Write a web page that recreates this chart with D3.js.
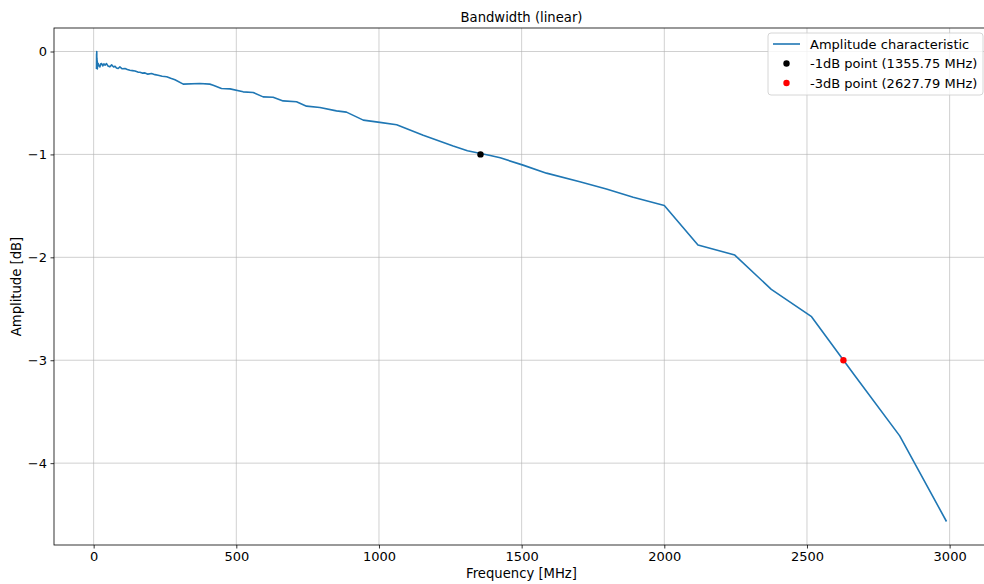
<!DOCTYPE html>
<html>
<head>
<meta charset="utf-8">
<script src="https://cdn.jsdelivr.net/npm/d3@7"></script>
<style>
  body { margin: 0; background: #fff; }
  svg { font-family: "DejaVu Sans", sans-serif; }
  .grid line { stroke: #b0b0b0; stroke-width: 0.8; stroke-opacity: 0.75; }
  .axis path, .axis line { stroke: #000; stroke-width: 0.8; }
</style>
</head>
<body>
<svg id="chart" width="984" height="584"></svg>
<script>
// frequency [MHz] and amplitude [dB]
let freqs = [
  10.0, 10.3, 10.6, 10.9, 11.2, 11.6, 12.0, 12.5, 13.0, 14, 15, 16, 19, 22, 25, 28,
  32, 36, 40, 45, 50, 57, 63, 70, 75, 80, 86, 92, 100, 110, 118, 127, 136, 145,
  155, 162, 170, 180, 190, 203, 215, 226, 240, 256, 270, 285,
  314, 372, 407, 419, 448, 478, 524, 559, 594, 629, 664, 711, 746, 793, 851, 886,
  945, 1003, 1062, 1155, 1260, 1310, 1390, 1425, 1505, 1587, 1704, 1797, 1891,
  2000, 2118, 2247, 2375, 2516, 2668, 2825, 2989
];
let amps = [
  -0.17, -0.02, -0.15, 0.0, -0.16, -0.06, -0.14, -0.09, -0.17, -0.11, -0.13, -0.117, -0.14, -0.149, -0.12, -0.117,
  -0.14, -0.12, -0.133, -0.117, -0.14, -0.149, -0.13, -0.15, -0.143, -0.16, -0.165, -0.15, -0.168, -0.165, -0.175, -0.182, -0.186, -0.19,
  -0.2, -0.201, -0.21, -0.208, -0.22, -0.214, -0.225, -0.23, -0.24, -0.245, -0.26, -0.275,
  -0.317, -0.311, -0.317, -0.327, -0.359, -0.363, -0.392, -0.398, -0.441, -0.444, -0.48, -0.489, -0.531, -0.544, -0.577, -0.589,
  -0.667, -0.689, -0.711, -0.813, -0.919, -0.965, -1.01, -1.033, -1.104, -1.182, -1.266, -1.337, -1.417,
  -1.497, -1.88, -1.978, -2.311, -2.577, -3.15, -3.735, -4.567
];

let markerFreqs = [1355.75, 2627.79];
let markerAmps = [-1, -3];
let markerColors = ["black", "red"];
let legendLabels = ["Amplitude characteristic", "-1dB point (1355.75 MHz)", "-3dB point (2627.79 MHz)"];

let xTicks = [0, 500, 1000, 1500, 2000, 2500, 3000];
let yTicks = [0, -1, -2, -3, -4];

let svg = d3.select("#chart");
let margin = { left: 54, right: 989, top: 28, bottom: 545 };
let lineColor = "#1f77b4";
let fontSize = 13;

let data = freqs.map((f, i) => ({ f: f, a: amps[i] }));
let markers = markerFreqs.map((f, i) => ({ f: f, a: markerAmps[i], color: markerColors[i] }));

// matplotlib style 5% padding
let pad = (ext) => {
  let r = ext[1] - ext[0];
  return [ext[0] - 0.05 * r, ext[1] + 0.05 * r];
}

let xScale = d3.scaleLinear()
  .domain(pad(d3.extent(freqs)))
  .range([margin.left, margin.right])

let yScale = d3.scaleLinear()
  .domain(pad(d3.extent(amps)))
  .range([margin.bottom, margin.top])

let minus = (n) => n < 0 ? "\u2212" + Math.abs(n) : String(n);

// grid
svg.append("g")
  .attr("class", "grid")
  .selectAll("line")
  .data(xTicks)
  .join("line")
  .attr("x1", d => xScale(d))
  .attr("x2", d => xScale(d))
  .attr("y1", margin.top)
  .attr("y2", margin.bottom)

svg.append("g")
  .attr("class", "grid")
  .selectAll("line")
  .data(yTicks)
  .join("line")
  .attr("x1", margin.left)
  .attr("x2", margin.right)
  .attr("y1", d => yScale(d))
  .attr("y2", d => yScale(d))

let line = d3.line()
  .x(d => xScale(d.f))
  .y(d => yScale(d.a))

svg.append("path")
  .datum(data)
  .attr("fill", "none")
  .attr("stroke", lineColor)
  .attr("stroke-width", 1.6)
  .attr("stroke-linejoin", "round")
  .attr("d", line)

svg.append("g")
  .selectAll("circle")
  .data(markers)
  .join("circle")
  .attr("cx", d => xScale(d.f))
  .attr("cy", d => yScale(d.a))
  .attr("r", 3.2)
  .attr("fill", d => d.color)

// axes
let xAxis = d3.axisBottom(xScale)
  .tickValues(xTicks)
  .tickSize(3.5)
  .tickPadding(3.5)
  .tickFormat(minus)

let yAxis = d3.axisLeft(yScale)
  .tickValues(yTicks)
  .tickSize(3.5)
  .tickPadding(3.5)
  .tickFormat(minus)

svg.append("g")
  .attr("class", "axis")
  .attr("transform", `translate(0, ${margin.bottom})`)
  .call(xAxis)
  .attr("font-family", "")
  .attr("font-size", fontSize)
  .call(g => g.select(".domain").remove())
  .selectAll("text")
  .attr("fill", "#000")

svg.append("g")
  .attr("class", "axis")
  .attr("transform", `translate(${margin.left}, 0)`)
  .call(yAxis)
  .attr("font-family", "")
  .attr("font-size", fontSize)
  .call(g => g.select(".domain").remove())
  .selectAll("text")
  .attr("fill", "#000")

// spines
svg.append("rect")
  .attr("x", margin.left)
  .attr("y", margin.top)
  .attr("width", margin.right - margin.left)
  .attr("height", margin.bottom - margin.top)
  .attr("fill", "none")
  .attr("stroke", "#000")
  .attr("stroke-width", 0.8)

// labels
let midX = (margin.left + margin.right) / 2;

svg.append("text")
  .attr("x", midX)
  .attr("y", 21.5)
  .attr("text-anchor", "middle")
  .attr("font-size", 13.2)
  .text("Bandwidth (linear)")

svg.append("text")
  .attr("x", midX)
  .attr("y", 578)
  .attr("text-anchor", "middle")
  .attr("font-size", 13.2)
  .text("Frequency [MHz]")

svg.append("text")
  .attr("transform", `translate(21, ${(margin.top + margin.bottom) / 2}) rotate(-90)`)
  .attr("text-anchor", "middle")
  .attr("font-size", 13.2)
  .text("Amplitude [dB]")

// legend
let legend = svg.append("g")
  .attr("transform", "translate(768, 33)")

legend.append("rect")
  .attr("width", 215)
  .attr("height", 62)
  .attr("rx", 3)
  .attr("fill", "#fff")
  .attr("fill-opacity", 0.8)
  .attr("stroke", "#cccccc")
  .attr("stroke-width", 0.8)

let rowY = (i) => 11 + i * 19.5;

legend.append("line")
  .attr("x1", 5)
  .attr("x2", 32)
  .attr("y1", rowY(0))
  .attr("y2", rowY(0))
  .attr("stroke", lineColor)
  .attr("stroke-width", 1.6)

legend.selectAll("circle")
  .data(markers)
  .join("circle")
  .attr("cx", 18.5)
  .attr("cy", (d, i) => rowY(i + 1))
  .attr("r", 3.2)
  .attr("fill", d => d.color)

legend.selectAll("text")
  .data(legendLabels)
  .join("text")
  .attr("x", 42)
  .attr("y", (d, i) => rowY(i))
  .attr("dy", "0.35em")
  .attr("font-size", fontSize)
  .text(d => d)
</script>
</body>
</html>
